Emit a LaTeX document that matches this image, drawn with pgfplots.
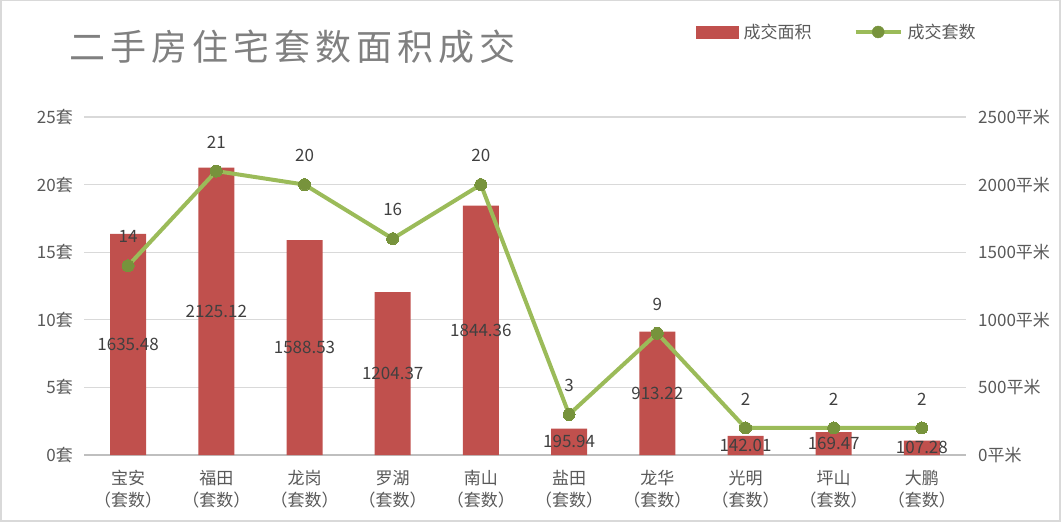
\documentclass[border=0pt]{standalone}
\usepackage{pgfplots}
\usepackage{pgfplotstable}
\pgfplotsset{compat=1.18}
\usepackage{fontspec}
\setmainfont{Noto Sans CJK SC}

\definecolor{barred}{HTML}{C0504D}
\definecolor{linegreen}{HTML}{9BBB59}
\definecolor{markgreen}{HTML}{77933C}
\definecolor{gridgray}{HTML}{D9D9D9}
\definecolor{axisgray}{HTML}{BFBFBF}
\definecolor{ticktext}{HTML}{595959}
\definecolor{labeltext}{HTML}{404040}
\definecolor{titlegray}{HTML}{808080}

\pgfplotstableread{
x area cnt
0 1635.48 14
1 2125.12 21
2 1588.53 20
3 1204.37 16
4 1844.36 20
5 195.94 3
6 913.22 9
7 142.01 2
8 169.47 2
9 107.28 2
}\datatable

\begin{document}
\begin{tikzpicture}
\path[use as bounding box] (0pt,0pt) rectangle (1064pt,523pt);
\draw[gridgray, line width=1.5pt] (0.75pt,2pt) rectangle (1060pt,522.25pt);

\node[anchor=west, text=titlegray, inner sep=0pt,
      font=\fontsize{36}{40}\selectfont\addfontfeatures{LetterSpace=14}]
  at (69pt,476pt) {二手房住宅套数面积成交};

% bars, right axis
\begin{axis}[
  at={(84pt,68pt)}, anchor=south west,
  scale only axis, width=882pt, height=338pt,
  xmin=-0.5, xmax=9.5, ymin=0, ymax=2500,
  axis y line*=right, axis x line*=bottom,
  y axis line style={draw=none},
  x axis line style={axisgray, line width=2pt},
  tick style={draw=none},
  xtick=data,
  xticklabels={宝安\\（套数）,福田\\（套数）,龙岗\\（套数）,罗湖\\（套数）,南山\\（套数）,
               盐田\\（套数）,龙华\\（套数）,光明\\（套数）,坪山\\（套数）,大鹏\\（套数）},
  xticklabel style={align=center, text=ticktext, font=\fontsize{17}{22}\selectfont, yshift=-12pt},
  ytick={0,500,...,2500},
  yticklabel={\pgfmathprintnumber[1000 sep={}]{\tick}平米},
  yticklabel style={text=ticktext, font=\fontsize{17}{20}\selectfont, inner sep=0pt, xshift=12pt},
  /pgf/number format/assume math mode=true,
  ymajorgrids, grid style={gridgray, line width=1.2pt},
  clip=false,
]
\addplot[ybar, bar width=36pt, fill=barred, draw=none] table[x=x, y=area] {\datatable};
\addplot[draw=none, mark=none, point meta=\thisrow{area},
  nodes near coords={\pgfmathprintnumber[fixed,fixed zerofill,precision=2,1000 sep={}]{\pgfplotspointmeta}},
  every node near coord/.append style={anchor=center, text=labeltext, font=\fontsize{17}{20}\selectfont}]
  table[x=x, y expr=\thisrow{area}/2] {\datatable};
\end{axis}

% line, left axis
\begin{axis}[
  at={(84pt,68pt)}, anchor=south west,
  scale only axis, width=882pt, height=338pt,
  xmin=-0.5, xmax=9.5, ymin=0, ymax=25,
  axis y line*=left, axis x line=none,
  y axis line style={draw=none},
  tick style={draw=none},
  ytick={0,5,...,25},
  yticklabel={\pgfmathprintnumber{\tick}套},
  yticklabel style={text=ticktext, font=\fontsize{17}{20}\selectfont, inner sep=0pt, xshift=-11pt},
  /pgf/number format/assume math mode=true,
  clip=false,
  legend columns=2,
  legend style={at={(0.694,1.2515)}, anchor=west, draw=none, fill=none, inner sep=0pt,
    font=\fontsize{17}{20}\selectfont, text=ticktext,
    /tikz/every even column/.append style={column sep=40pt},
    /tikz/every odd column/.append style={column sep=3pt}},
]
\addlegendimage{legend image code/.code={\fill[barred] (0pt,-6pt) rectangle (42pt,6pt);}}
\addlegendentry{成交面积}
\addlegendimage{legend image code/.code={
    \draw[linegreen, line width=4pt] (0pt,0pt) -- (45pt,0pt);
    \fill[markgreen] (22.5pt,0pt) circle (6pt);}}
\addlegendentry{成交套数}
\addplot[color=linegreen, line width=4pt, mark=*, mark size=6pt,
  mark options={fill=markgreen, draw=markgreen, line width=0pt},
  nodes near coords,
  every node near coord/.append style={anchor=center, yshift=29pt, text=labeltext, font=\fontsize{17}{20}\selectfont}]
  table[x=x, y=cnt] {\datatable};
\end{axis}
\end{tikzpicture}
\end{document}
